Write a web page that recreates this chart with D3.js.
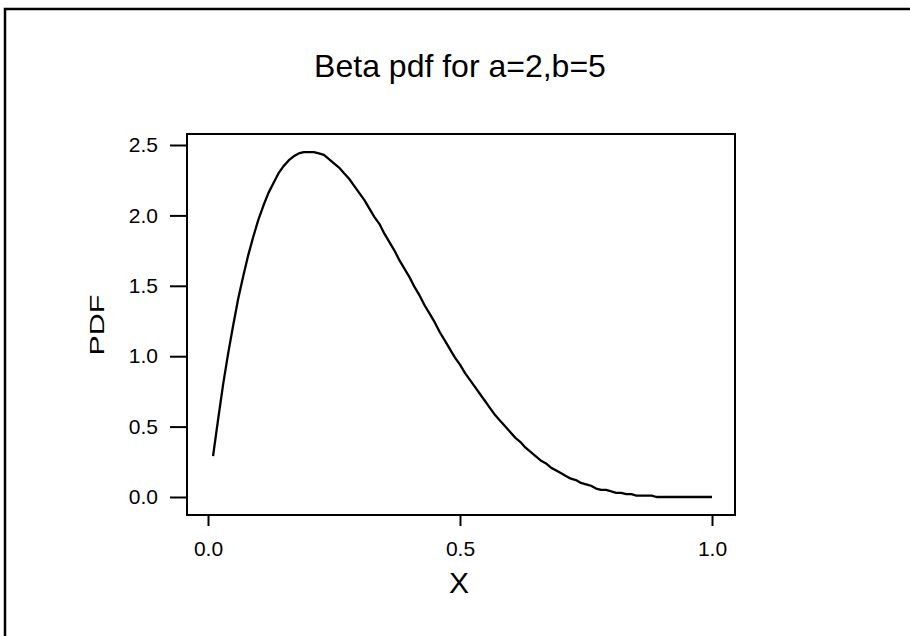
<!DOCTYPE html>
<html>
<head>
<meta charset="utf-8">
<script src="https://cdn.jsdelivr.net/npm/d3@7"></script>
<style>
  body { margin: 0; background: #fff; }
  svg { display: block; font-family: "Liberation Sans", Arial, sans-serif; }
</style>
</head>
<body>
<script>
// x grid and pdf values (step 0.01)
const xs = [0.01,0.02,0.03,0.04,0.05,0.06,0.07,0.08,0.09,0.10,
  0.11,0.12,0.13,0.14,0.15,0.16,0.17,0.18,0.19,0.20,
  0.21,0.22,0.23,0.24,0.25,0.26,0.27,0.28,0.29,0.30,
  0.31,0.32,0.33,0.34,0.35,0.36,0.37,0.38,0.39,0.40,
  0.41,0.42,0.43,0.44,0.45,0.46,0.47,0.48,0.49,0.50,
  0.51,0.52,0.53,0.54,0.55,0.56,0.57,0.58,0.59,0.60,
  0.61,0.62,0.63,0.64,0.65,0.66,0.67,0.68,0.69,0.70,
  0.71,0.72,0.73,0.74,0.75,0.76,0.77,0.78,0.79,0.80,
  0.81,0.82,0.83,0.84,0.85,0.86,0.87,0.88,0.89,0.90,
  0.91,0.92,0.93,0.94,0.95,0.96,0.97,0.98,0.99,1.00];
const pdf = [0.29,0.55,0.80,1.02,1.22,1.41,1.57,1.72,1.85,1.97,
  2.07,2.16,2.23,2.30,2.35,2.39,2.42,2.44,2.45,2.45,
  2.45,2.44,2.43,2.40,2.37,2.34,2.30,2.26,2.21,2.16,
  2.11,2.05,1.99,1.94,1.87,1.81,1.75,1.68,1.62,1.56,
  1.49,1.43,1.36,1.30,1.24,1.17,1.11,1.05,0.99,0.94,
  0.88,0.83,0.78,0.73,0.68,0.63,0.58,0.54,0.50,0.46,
  0.42,0.39,0.35,0.32,0.29,0.26,0.24,0.21,0.19,0.17,
  0.15,0.13,0.12,0.10,0.09,0.08,0.06,0.05,0.05,0.04,
  0.03,0.03,0.02,0.02,0.01,0.01,0.01,0.01,0.00,0.00,
  0.00,0.00,0.00,0.00,0.00,0.00,0.00,0.00,0.00,0.00];
const xTicks = [0, 0.5, 1];
const yTicks = [0, 0.5, 1, 1.5, 2, 2.5];

const svg = d3.select('body').append('svg')
  .attr('width', 910)
  .attr('height', 636);

// page frame
svg.append('rect')
  .attr('x', 5).attr('y', 9)
  .attr('width', 920).attr('height', 650)
  .attr('fill', 'none')
  .attr('stroke', 'black')
  .attr('stroke-width', 2.5);

const box = {left: 187, right: 735, top: 134, bottom: 515};

const x = d3.scaleLinear().domain([0, 1]).range([208, 712]);
const y = d3.scaleLinear().domain([0, 2.5]).range([497, 145]);

svg.append('text')
  .attr('x', 460).attr('y', 77)
  .attr('text-anchor', 'middle')
  .attr('font-size', 32)
  .text('Beta pdf for a=2,b=5');

// plot box
svg.append('rect')
  .attr('x', box.left).attr('y', box.top)
  .attr('width', box.right - box.left)
  .attr('height', box.bottom - box.top)
  .attr('fill', 'none')
  .attr('stroke', 'black')
  .attr('stroke-width', 2);

const tickFont = 21;

const gx = svg.append('g')
  .attr('transform', `translate(0,${box.bottom})`)
  .style('font-family', '"Liberation Sans", Arial, sans-serif')
  .style('font-size', tickFont + 'px')
  .call(d3.axisBottom(x).tickValues(xTicks).tickFormat(d3.format('.1f')).tickSize(11).tickSizeOuter(0));
gx.attr('font-size', null).attr('font-family', null);
gx.select('.domain').remove();
gx.selectAll('line').attr('stroke-width', 2);
gx.selectAll('text')
  .attr('y', 26).attr('dy', '0.71em');

const gy = svg.append('g')
  .attr('transform', `translate(${box.left},0)`)
  .style('font-family', '"Liberation Sans", Arial, sans-serif')
  .style('font-size', tickFont + 'px')
  .call(d3.axisLeft(y).tickValues(yTicks).tickFormat(d3.format('.1f')).tickSize(17).tickSizeOuter(0));
gy.attr('font-size', null).attr('font-family', null);
gy.select('.domain').remove();
gy.selectAll('line').attr('stroke-width', 2);
gy.selectAll('text')
  .attr('x', -29);

// curve
const line = d3.line()
  .x((d, i) => x(xs[i]))
  .y(d => y(d));

svg.append('path')
  .datum(pdf)
  .attr('fill', 'none')
  .attr('stroke', 'black')
  .attr('stroke-width', 2.3)
  .attr('stroke-linejoin', 'round')
  .attr('d', line);

svg.append('text')
  .attr('x', 459).attr('y', 593)
  .attr('text-anchor', 'middle')
  .attr('font-size', 30)
  .text('X');

svg.append('text')
  .attr('transform', 'translate(104,325) rotate(-90) scale(1.45,1)')
  .attr('text-anchor', 'middle')
  .attr('font-size', 21)
  .text('PDF');
</script>
</body>
</html>
